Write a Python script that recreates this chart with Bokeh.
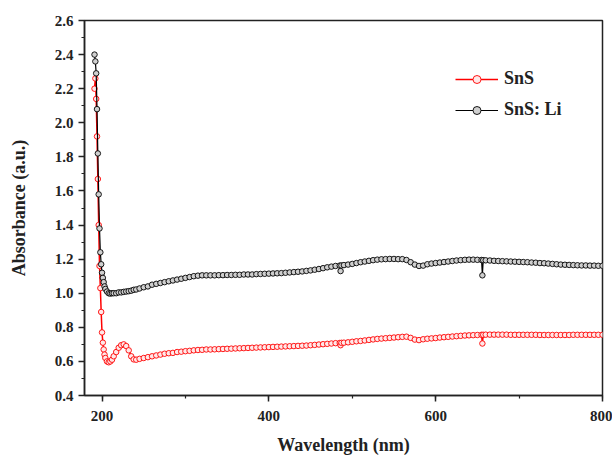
from bokeh.plotting import figure
from bokeh.models import SingleIntervalTicker, NumeralTickFormatter, Range1d
from bokeh.embed import file_html
from bokeh.resources import INLINE

# Wavelength (nm)
wavelength = [
    191, 192, 193, 194, 195, 196, 197, 198, 199, 200,
    201, 202, 203, 204, 206, 208, 210, 212, 214, 217,
    220, 223, 226, 229, 232, 235, 238, 241, 245, 250,
    255, 260, 265, 270, 275, 280, 285, 290, 295, 300,
    305, 310, 315, 320, 325, 330, 335, 340, 345, 350,
    355, 360, 365, 370, 375, 380, 385, 390, 395, 400,
    405, 410, 415, 420, 425, 430, 435, 440, 445, 450,
    455, 460, 465, 470, 475, 480, 485, 486, 487, 490,
    495, 500, 505, 510, 515, 520, 525, 530, 535, 540,
    545, 550, 555, 560, 565, 570, 575, 580, 585, 590,
    595, 600, 605, 610, 615, 620, 625, 630, 635, 640,
    645, 650, 655, 656, 657, 660, 665, 670, 675, 680,
    685, 690, 695, 700, 705, 710, 715, 720, 725, 730,
    735, 740, 745, 750, 755, 760, 765, 770, 775, 780,
    785, 790, 795, 800,
]

# Absorbance of SnS
sns = [
    2.20, 2.26, 2.14, 1.92, 1.67, 1.40, 1.16, 1.03, 0.89, 0.77,
    0.71, 0.67, 0.64, 0.62, 0.60, 0.595, 0.60, 0.61, 0.63, 0.655,
    0.68, 0.695, 0.70, 0.69, 0.665, 0.63, 0.612, 0.61, 0.615, 0.62,
    0.625, 0.63, 0.635, 0.64, 0.645, 0.648, 0.65, 0.655, 0.657, 0.66,
    0.662, 0.665, 0.667, 0.668, 0.67, 0.67, 0.671, 0.672, 0.673, 0.674,
    0.675, 0.676, 0.677, 0.678, 0.679, 0.68, 0.681, 0.682, 0.683, 0.684,
    0.685, 0.686, 0.687, 0.688, 0.689, 0.69, 0.691, 0.692, 0.693, 0.695,
    0.697, 0.699, 0.701, 0.703, 0.705, 0.707, 0.708, 0.695, 0.709, 0.71,
    0.712, 0.715, 0.718, 0.72, 0.723, 0.726, 0.729, 0.732, 0.734, 0.736,
    0.738, 0.74, 0.742, 0.744, 0.745, 0.738, 0.728, 0.725, 0.73, 0.733,
    0.735, 0.737, 0.74, 0.742, 0.744, 0.746, 0.748, 0.75, 0.752, 0.753,
    0.754, 0.755, 0.756, 0.705, 0.756, 0.757, 0.757, 0.757, 0.757, 0.757,
    0.757, 0.756, 0.756, 0.756, 0.756, 0.756, 0.756, 0.756, 0.755, 0.755,
    0.755, 0.755, 0.755, 0.755, 0.755, 0.755, 0.756, 0.756, 0.756, 0.756,
    0.756, 0.756, 0.756, 0.756,
]

# Absorbance of SnS: Li
sns_li = [
    2.40, 2.36, 2.29, 2.08, 1.82, 1.58, 1.38, 1.24, 1.17, 1.12,
    1.09, 1.065, 1.04, 1.025, 1.01, 1.0, 0.998, 1.0, 1.0, 1.0,
    1.005, 1.005, 1.008, 1.01, 1.012, 1.015, 1.02, 1.022, 1.028, 1.035,
    1.04, 1.05, 1.055, 1.06, 1.065, 1.07, 1.075, 1.08, 1.085, 1.09,
    1.095, 1.10, 1.103, 1.105, 1.105, 1.105, 1.105, 1.106, 1.106, 1.107,
    1.107, 1.108, 1.108, 1.11, 1.11, 1.11, 1.112, 1.113, 1.114, 1.115,
    1.116, 1.117, 1.118, 1.12, 1.122, 1.124, 1.126, 1.128, 1.131, 1.134,
    1.138, 1.142, 1.147, 1.152, 1.156, 1.16, 1.162, 1.13, 1.163, 1.165,
    1.168, 1.172, 1.177, 1.182, 1.186, 1.19, 1.194, 1.197, 1.199, 1.2,
    1.201, 1.201, 1.2, 1.2, 1.195, 1.182, 1.168, 1.16, 1.162, 1.17,
    1.174, 1.177, 1.18, 1.183, 1.186, 1.189, 1.192, 1.194, 1.196, 1.197,
    1.197, 1.196, 1.195, 1.105, 1.194, 1.193, 1.192, 1.19, 1.189, 1.188,
    1.187, 1.186, 1.185, 1.184, 1.183, 1.182, 1.18, 1.179, 1.177, 1.176,
    1.174, 1.172, 1.17, 1.168, 1.167, 1.166, 1.165, 1.164, 1.163, 1.163,
    1.162, 1.162, 1.161, 1.161,
]

FONT = "Liberation Serif"

p = figure(width=612, height=457, output_backend="svg", toolbar_location=None,
           x_range=Range1d(179, 800), y_range=Range1d(0.4, 2.6),
           min_border_left=84, min_border_right=10, min_border_top=20,
           min_border_bottom=60)
p.background_fill_color = "white"
p.border_fill_color = "white"
p.xgrid.visible = False
p.ygrid.visible = False
p.outline_line_color = "#222222"
p.outline_line_width = 1.5

p.line(wavelength, sns, line_color="red", line_width=1.5, legend_label="SnS")
p.scatter(wavelength, sns, marker="circle", size=5.5, line_color="red",
          fill_color="#ffe8e8", line_width=0.9, legend_label="SnS")

p.line(wavelength, sns_li, line_color="black", line_width=1.2, legend_label="SnS: Li")
p.scatter(wavelength, sns_li, marker="circle", size=5.5, line_color="black",
          fill_color="#cfcfcf", line_width=0.9, legend_label="SnS: Li")

p.xaxis.ticker = SingleIntervalTicker(interval=200, num_minor_ticks=2)
p.yaxis.ticker = SingleIntervalTicker(interval=0.2, num_minor_ticks=2)
p.yaxis.formatter = NumeralTickFormatter(format="0.0")
p.xaxis.axis_label = "Wavelength (nm)"
p.yaxis.axis_label = "Absorbance (a.u.)"

for ax in (p.xaxis, p.yaxis):
    ax.axis_line_color = "#222222"
    ax.axis_line_width = 1.5
    ax.major_tick_line_color = "#222222"
    ax.minor_tick_line_color = "#222222"
    ax.major_tick_line_width = 1.5
    ax.minor_tick_line_width = 1.2
    ax.major_tick_in = 0
    ax.major_tick_out = 6
    ax.minor_tick_in = 0
    ax.minor_tick_out = 3
    ax.major_label_text_font = FONT
    ax.major_label_text_font_style = "bold"
    ax.major_label_text_font_size = "15px"
    ax.major_label_text_color = "#222222"
    ax.axis_label_text_font = FONT
    ax.axis_label_text_font_style = "bold"
    ax.axis_label_text_font_size = "18px"
    ax.axis_label_text_color = "#222222"

p.xaxis.major_label_standoff = 9
p.xaxis.axis_label_standoff = 11
p.yaxis.major_label_standoff = 5
p.yaxis.axis_label_standoff = 23

leg = p.legend[0]
leg.location = (371, 275)
leg.margin = 0
leg.padding = 0
leg.spacing = 10
leg.border_line_color = None
leg.background_fill_alpha = 0
leg.glyph_width = 43
leg.glyph_height = 20
leg.label_height = 20
leg.label_standoff = 6
leg.label_text_font = FONT
leg.label_text_font_style = "bold"
leg.label_text_font_size = "18px"
leg.label_text_color = "#222222"

open("out.html", "w").write(file_html(p, INLINE))
